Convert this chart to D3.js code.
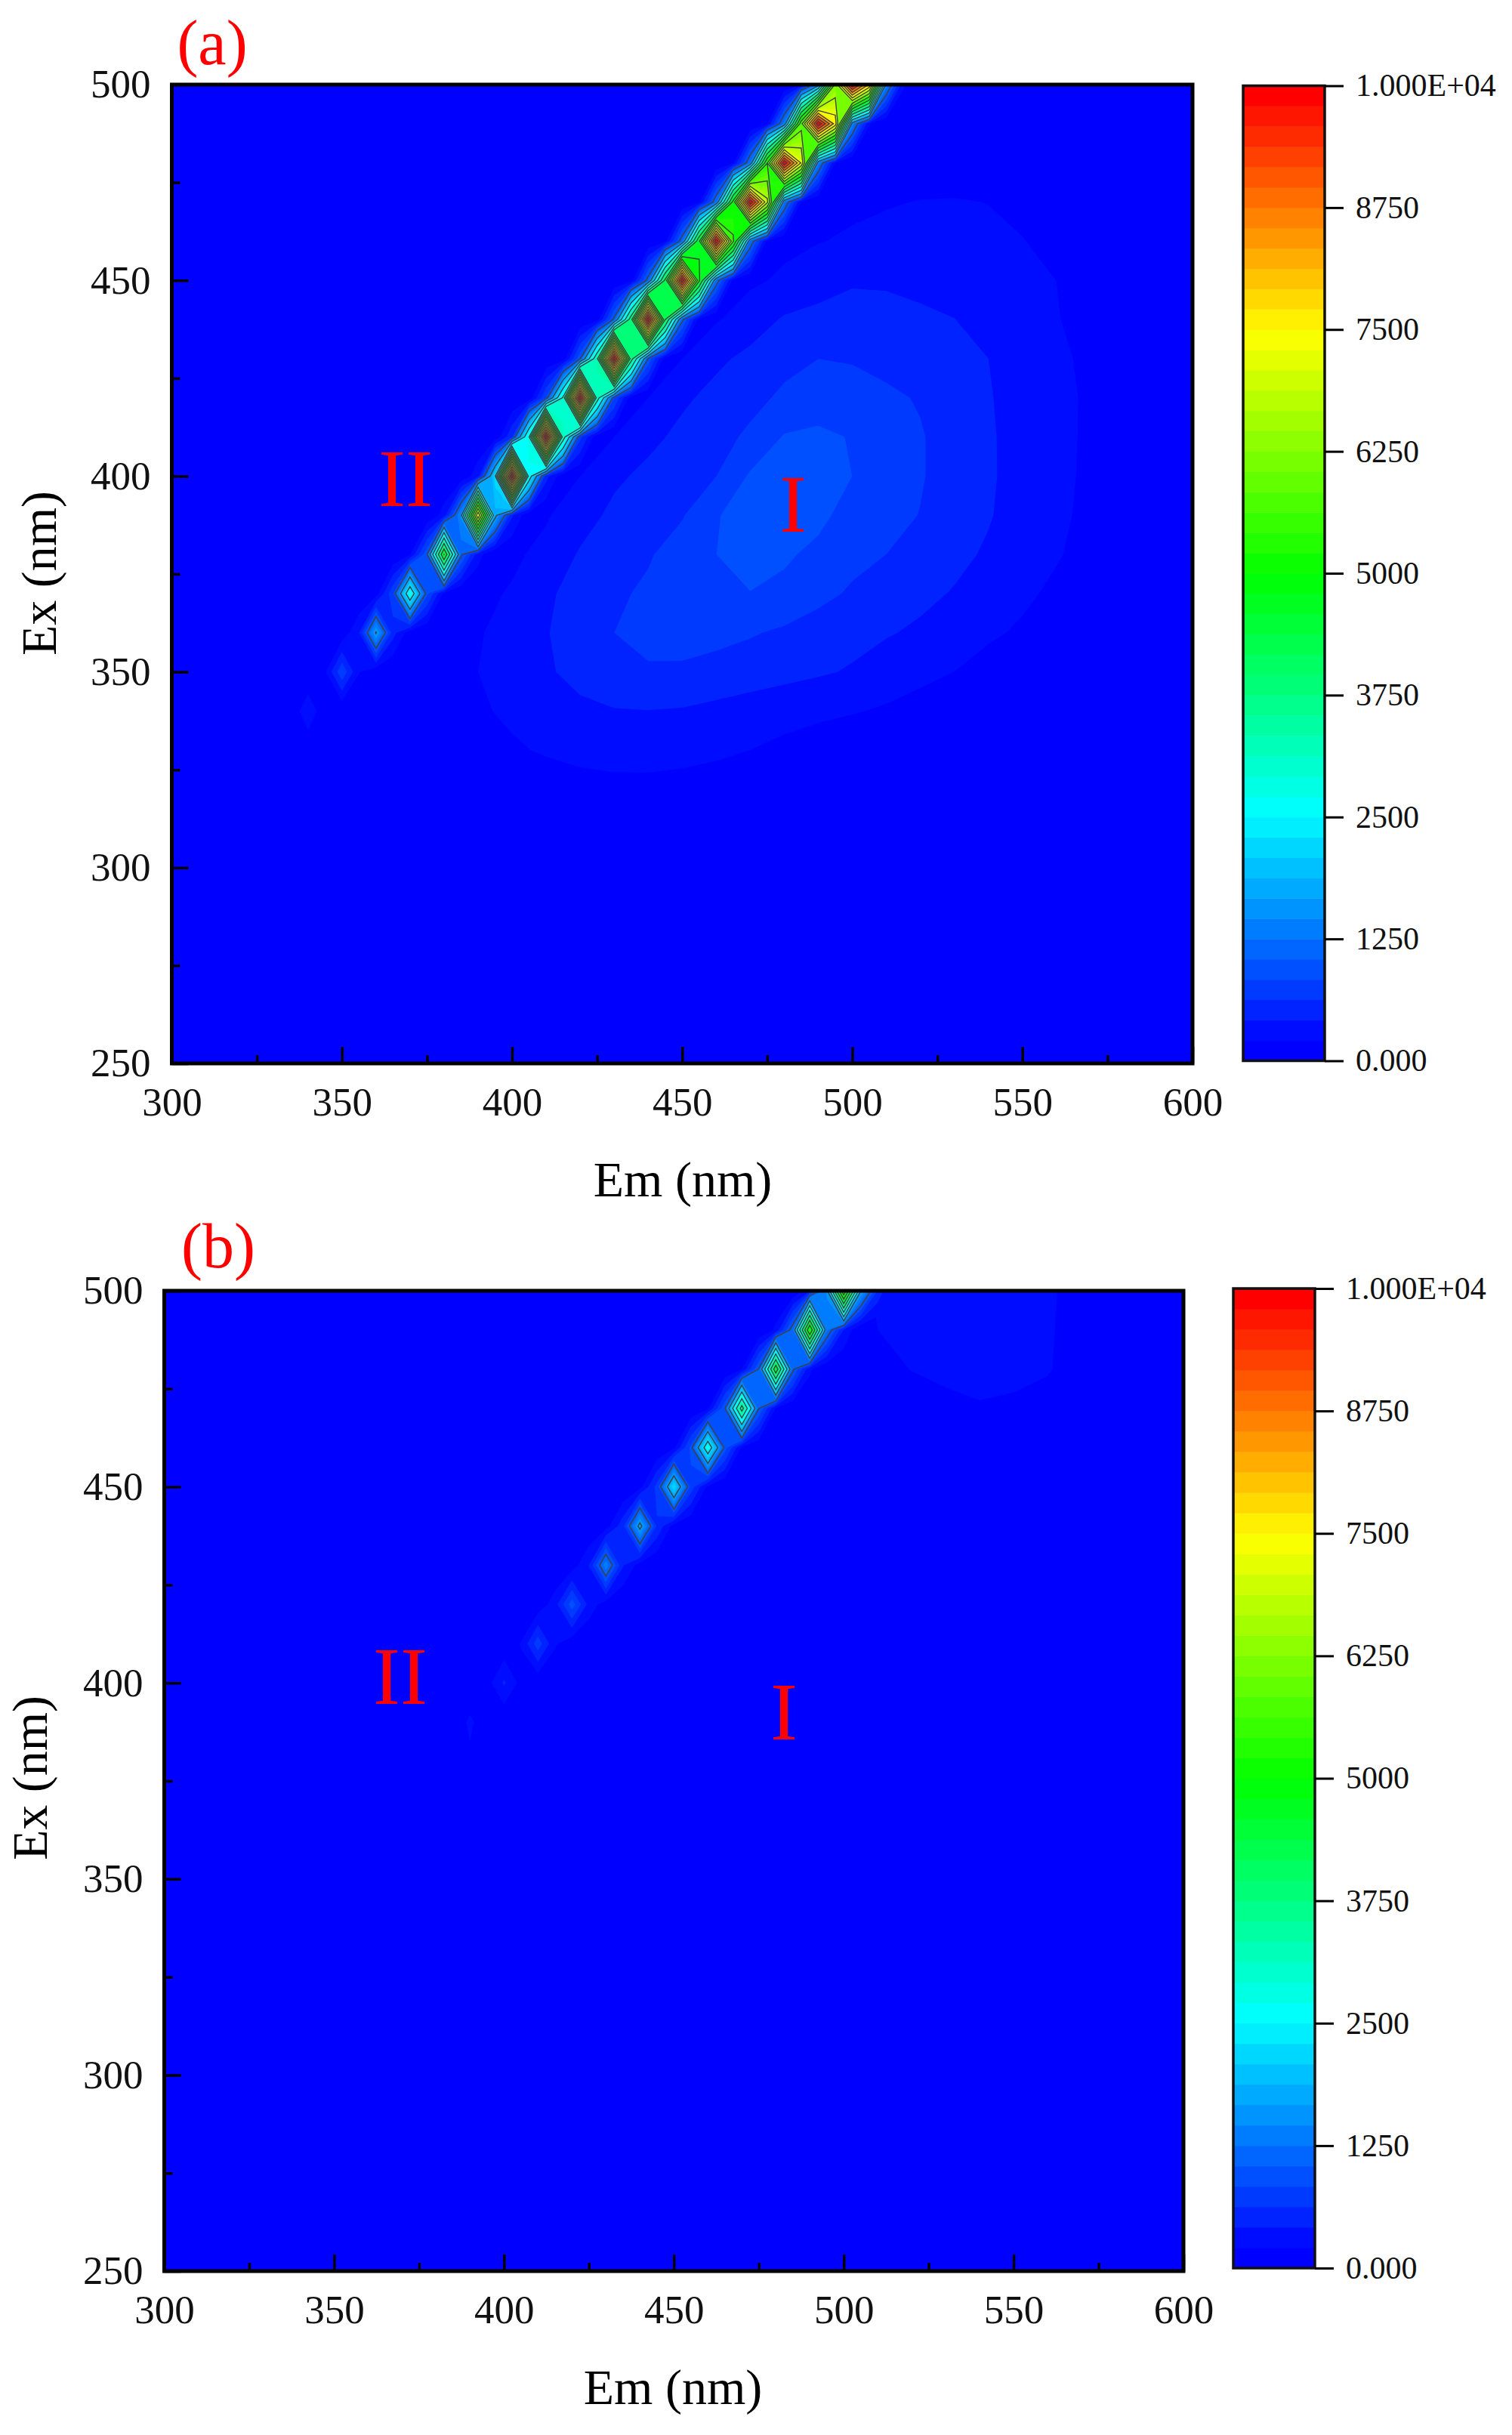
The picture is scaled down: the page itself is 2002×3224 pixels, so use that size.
<html lang="en">
<head>
    <meta charset="UTF-8">
    <title>Ex-Em maps</title>
    <script src="https://d3js.org/d3.v7.min.js"></script>
    <style>
        html, body { margin: 0; background: #fff; }
        text { font-family: "Liberation Serif", serif; fill: #000; }
        .axis path { display: none; }
        .axis line { stroke: #000; stroke-width: 3.5; }
        .axis text { font-size: 53px; font-family: "Liberation Serif", serif; fill: #111; }
        .barAxis line { stroke: #000; stroke-width: 3; }
        .barAxis text { font-size: 42px; }
        .title { font-size: 66px; }
        .note { fill: #f00; }
    </style>
</head>
<body>
    <div id="chart"></div>
    <script>
        // axis ticks
        var emTicks = [300, 350, 400, 450, 500, 550, 600];
        var emMinorTicks = [325, 375, 425, 475, 525, 575];
        var exTicks = [250, 300, 350, 400, 450, 500];
        var exMinorTicks = [275, 325, 375, 425, 475];
        var barTicks = [0, 1250, 2500, 3750, 5000, 6250, 7500, 8750, 10000];
        var barLabels = ["0.000", "1250", "2500", "3750", "5000", "6250", "7500", "8750", "1.000E+04"];

        // colour map stops, same on both panels
        var colorStops = [0, 213, 2500, 5000, 7500, 10000];
        var colorValues = ["#0000ff", "#000cff", "#00ffff", "#00ff00", "#ffff00", "#ff0000"];

        // scatter ridge, one row per Ex, values at Em = Ex + offset
        var scatterOffsets = [-15, -10, -5, 0, 5, 10, 15];

        var scatterExA = [340, 350, 360, 370, 380, 390, 400, 410, 420, 430, 440, 450, 460, 470, 480, 490, 500];
        var scatterA = [
            [0, 0, 60, 350, 80, 0, 0],
            [0, 30, 180, 800, 220, 40, 0],
            [0, 60, 400, 1700, 500, 80, 0],
            [0, 100, 800, 2750, 900, 150, 0],
            [0, 200, 1000, 4800, 1100, 300, 0],
            [20, 300, 1500, 7200, 1800, 450, 30],
            [20, 350, 2200, 10200, 2600, 500, 40],
            [40, 600, 2900, 10300, 3200, 700, 60],
            [60, 850, 3000, 10300, 3200, 850, 80],
            [80, 1000, 3400, 10300, 3800, 1000, 100],
            [100, 1100, 3900, 10300, 4200, 1100, 120],
            [120, 1150, 4300, 10300, 4900, 1200, 140],
            [140, 1200, 4700, 10300, 5500, 1250, 160],
            [160, 1250, 5000, 10300, 6800, 1300, 180],
            [180, 1300, 5400, 10300, 7200, 1350, 200],
            [200, 1350, 5800, 10300, 7600, 1400, 220],
            [220, 1400, 6200, 10300, 7800, 1400, 240]
        ];

        var scatterExB = [390, 400, 410, 420, 430, 440, 450, 460, 470, 480, 490, 500];
        var scatterB = [
            [0, 0, 60, 250, 70, 0, 0],
            [0, 20, 120, 450, 140, 30, 0],
            [0, 40, 220, 750, 240, 60, 0],
            [0, 60, 320, 950, 340, 90, 0],
            [0, 90, 420, 1400, 440, 110, 0],
            [0, 110, 550, 1800, 600, 130, 0],
            [0, 130, 700, 2250, 750, 150, 0],
            [0, 150, 900, 2700, 950, 170, 0],
            [0, 170, 1000, 3800, 1050, 200, 0],
            [0, 200, 1050, 4600, 1100, 250, 0],
            [0, 250, 1200, 5400, 1300, 400, 0],
            [0, 400, 1500, 6000, 1700, 600, 50]
        ];

        // broad emission hump, rows go up in Ex
        var humpEmA = [380, 390, 400, 410, 420, 430, 440, 450, 460, 470, 480, 490, 500, 510, 520, 530, 540, 550, 560, 570, 580];
        var humpExA = [320, 330, 340, 350, 360, 370, 380, 390, 400, 410, 420, 430, 440, 450, 460, 470, 480];
        var humpA = [
            [0, 0, 20, 50, 90, 110, 110, 90, 60, 30, 10, 0, 0, 0, 0, 0, 0, 0, 0, 0, 0],
            [0, 60, 170, 240, 300, 335, 340, 310, 265, 208, 150, 90, 40, 10, 0, 0, 0, 0, 0, 0, 0],
            [40, 170, 260, 330, 380, 405, 412, 400, 365, 330, 295, 260, 225, 180, 120, 70, 30, 0, 0, 0, 0],
            [100, 208, 310, 395, 470, 560, 600, 590, 550, 510, 475, 440, 400, 340, 270, 208, 130, 70, 20, 0, 0],
            [130, 190, 290, 405, 520, 625, 690, 715, 690, 645, 590, 520, 470, 430, 390, 310, 240, 180, 110, 50, 10],
            [110, 165, 225, 385, 490, 590, 660, 740, 815, 830, 790, 690, 595, 510, 455, 405, 320, 245, 170, 90, 30],
            [70, 125, 175, 260, 440, 530, 605, 720, 833, 880, 860, 790, 690, 625, 555, 460, 395, 310, 225, 140, 60],
            [40, 80, 130, 190, 320, 470, 550, 610, 820, 920, 950, 880, 760, 680, 620, 500, 430, 340, 250, 160, 70],
            [10, 40, 90, 150, 208, 375, 470, 560, 625, 860, 930, 900, 833, 720, 640, 540, 440, 350, 260, 170, 80],
            [0, 10, 50, 100, 150, 208, 360, 470, 560, 660, 850, 880, 820, 710, 640, 540, 440, 345, 255, 180, 90],
            [0, 0, 10, 50, 100, 150, 208, 380, 480, 570, 660, 720, 710, 660, 610, 520, 430, 340, 250, 185, 90],
            [0, 0, 0, 10, 50, 100, 150, 208, 375, 470, 570, 625, 610, 570, 510, 460, 417, 330, 245, 170, 80],
            [0, 0, 0, 0, 10, 40, 90, 150, 190, 310, 440, 470, 480, 475, 450, 420, 340, 280, 220, 130, 40],
            [0, 0, 0, 0, 0, 10, 40, 90, 130, 175, 240, 340, 400, 395, 370, 320, 280, 240, 208, 120, 30],
            [0, 0, 0, 0, 0, 0, 10, 40, 80, 120, 165, 200, 235, 260, 285, 280, 245, 215, 150, 70, 10],
            [0, 0, 0, 0, 0, 0, 0, 0, 30, 60, 100, 140, 170, 195, 215, 220, 205, 160, 90, 30, 0],
            [0, 0, 0, 0, 0, 0, 0, 0, 0, 0, 30, 60, 80, 100, 110, 110, 90, 60, 30, 0, 0]
        ];

        var humpEmB = [500, 510, 520, 530, 540, 550, 560, 570];
        var humpExB = [460, 470, 480, 490, 500];
        var humpB = [
            [0, 0, 20, 50, 70, 60, 30, 0],
            [0, 20, 80, 160, 195, 180, 130, 60],
            [20, 130, 215, 250, 260, 250, 225, 110],
            [80, 208, 260, 280, 290, 280, 230, 130],
            [100, 230, 270, 285, 290, 285, 240, 130]
        ];

        var bandCount = 48;
        var bandLevels = d3.range(bandCount).map(function (k) { return k * 10000 / bandCount; });
        var lineLevels = d3.range(1042, 10000, 625);

        var colorScale = d3.scaleLinear().domain(colorStops).range(colorValues);

        function bandColor(k) {
            return colorScale(k / (bandCount - 1) * 10000);
        }

        var svg = d3.select("#chart").append("svg")
            .attr("width", 2002)
            .attr("height", 3224);

        // d3.contours wants a flat array, first index is column
        function drawLayer(g, x, y, ems, exs, rows, withLines) {
            var flat = d3.merge(rows);
            var emStep = ems[1] - ems[0], exStep = exs[1] - exs[0];
            var path = d3.geoPath(d3.geoTransform({
                point: function (cx, cy) {
                    this.stream.point(
                        x(ems[0] + (cx - 0.5) * emStep),
                        y(exs[0] + (cy - 0.5) * exStep));
                }
            }));
            var contours = d3.contours().size([ems.length, exs.length]);

            g.append("g").selectAll("path")
                .data(contours.thresholds(bandLevels.slice(1))(flat))
                .enter().append("path")
                .attr("d", path)
                .attr("fill", function (d, i) { return bandColor(i + 1); });

            if (withLines) {
                g.append("g").selectAll("path")
                    .data(contours.thresholds(lineLevels)(flat))
                    .enter().append("path")
                    .attr("d", path)
                    .attr("fill", "none")
                    .attr("stroke", "#404040")
                    .attr("stroke-width", 1.4);
            }
        }

        // put the ridge rows onto a 5 nm Em by 10 nm Ex grid
        function scatterGrid(exList, rows) {
            var ems = d3.range(320, 535, 5);
            var exs = d3.range(exList[0], exList[exList.length - 1] + 10, 10);
            var grid = exs.map(function () { return ems.map(function () { return 0; }); });
            exList.forEach(function (ex, r) {
                scatterOffsets.forEach(function (off, c) {
                    var col = ems.indexOf(ex + off);
                    if (col >= 0) grid[exs.indexOf(ex)][col] = rows[r][c];
                });
            });
            return { ems: ems, exs: exs, grid: grid };
        }

        function drawPanel(p) {
            var x = d3.scaleLinear().domain([300, 600]).range([p.left, p.right]);
            var y = d3.scaleLinear().domain([250, 500]).range([p.bottom, p.top]);
            var w = p.right - p.left, h = p.bottom - p.top;

            svg.append("clipPath").attr("id", p.id + "clip").append("rect")
                .attr("x", p.left).attr("y", p.top).attr("width", w).attr("height", h);

            svg.append("rect")
                .attr("x", p.left).attr("y", p.top).attr("width", w).attr("height", h)
                .attr("fill", colorValues[0]);

            var plot = svg.append("g").attr("clip-path", "url(#" + p.id + "clip)");
            drawLayer(plot, x, y, p.humpEm, p.humpEx, p.hump, false);
            var s = scatterGrid(p.scatterEx, p.scatter);
            drawLayer(plot, x, y, s.ems, s.exs, s.grid, true);

            svg.append("rect")
                .attr("x", p.left).attr("y", p.top).attr("width", w).attr("height", h)
                .attr("fill", "none").attr("stroke", "#000").attr("stroke-width", 5);

            svg.append("g").attr("class", "axis")
                .attr("transform", "translate(0," + p.bottom + ")")
                .call(d3.axisBottom(x).tickValues(emTicks).tickSizeInner(-22).tickSizeOuter(0).tickPadding(31));
            svg.append("g").attr("class", "axis")
                .attr("transform", "translate(0," + p.bottom + ")")
                .call(d3.axisBottom(x).tickValues(emMinorTicks).tickSizeInner(-11).tickSizeOuter(0).tickFormat(""));
            svg.append("g").attr("class", "axis")
                .attr("transform", "translate(" + p.left + ",0)")
                .call(d3.axisLeft(y).tickValues(exTicks).tickSizeInner(-22).tickSizeOuter(0).tickPadding(28));
            svg.append("g").attr("class", "axis")
                .attr("transform", "translate(" + p.left + ",0)")
                .call(d3.axisLeft(y).tickValues(exMinorTicks).tickSizeInner(-11).tickSizeOuter(0).tickFormat(""));

            svg.append("text").attr("class", "title")
                .attr("x", p.emTitle[0]).attr("y", p.emTitle[1])
                .attr("text-anchor", "middle").text("Em (nm)");
            svg.append("text").attr("class", "title")
                .attr("transform", "translate(" + p.exTitle[0] + "," + p.exTitle[1] + ") rotate(-90)")
                .attr("text-anchor", "middle").text("Ex (nm)");

            svg.append("text").attr("class", "note")
                .attr("x", p.tag[0]).attr("y", p.tag[1])
                .attr("text-anchor", "middle").attr("font-size", 84).text(p.tagText);
            svg.append("text").attr("class", "note")
                .attr("x", p.two[0]).attr("y", p.two[1])
                .attr("text-anchor", "middle").attr("font-size", 108).text("II");
            svg.append("text").attr("class", "note")
                .attr("x", p.one[0]).attr("y", p.one[1])
                .attr("text-anchor", "middle").attr("font-size", 108).text("I");

            // colour bar
            var barY = d3.scaleLinear().domain([0, 10000]).range([p.barBottom, p.barTop]);
            svg.append("g").selectAll("rect")
                .data(bandLevels)
                .enter().append("rect")
                .attr("x", p.barLeft)
                .attr("width", p.barRight - p.barLeft)
                .attr("y", function (d) { return barY(d + 10000 / bandCount); })
                .attr("height", function (d) { return barY(d) - barY(d + 10000 / bandCount) + 0.5; })
                .attr("fill", function (d, i) { return bandColor(i); });
            svg.append("rect")
                .attr("x", p.barLeft).attr("y", p.barTop)
                .attr("width", p.barRight - p.barLeft).attr("height", p.barBottom - p.barTop)
                .attr("fill", "none").attr("stroke", "#111").attr("stroke-width", 3.5);
            svg.append("g").attr("class", "axis barAxis")
                .attr("transform", "translate(" + p.barRight + ",0)")
                .call(d3.axisRight(barY).tickValues(barTicks).tickSizeInner(25).tickSizeOuter(0).tickPadding(16)
                    .tickFormat(function (d, i) { return barLabels[i]; }));
        }

        drawPanel({
            id: "a", left: 227.5, right: 1579, top: 112, bottom: 1408,
            barLeft: 1646, barRight: 1754, barTop: 113.5, barBottom: 1404.5,
            hump: humpA, humpEm: humpEmA, humpEx: humpExA,
            scatter: scatterA, scatterEx: scatterExA,
            tagText: "(a)", tag: [281, 85], two: [537, 670], one: [1050, 704],
            emTitle: [904, 1584], exTitle: [74, 759]
        });

        drawPanel({
            id: "b", left: 217.5, right: 1567, top: 1709, bottom: 3007,
            barLeft: 1633, barRight: 1741, barTop: 1706, barBottom: 3003,
            hump: humpB, humpEm: humpEmB, humpEx: humpExB,
            scatter: scatterB, scatterEx: scatterExB,
            tagText: "(b)", tag: [289, 1678], two: [530, 2256], one: [1038, 2303],
            emTitle: [891, 3183], exTitle: [62, 2354]
        });
    </script>
</body>
</html>
